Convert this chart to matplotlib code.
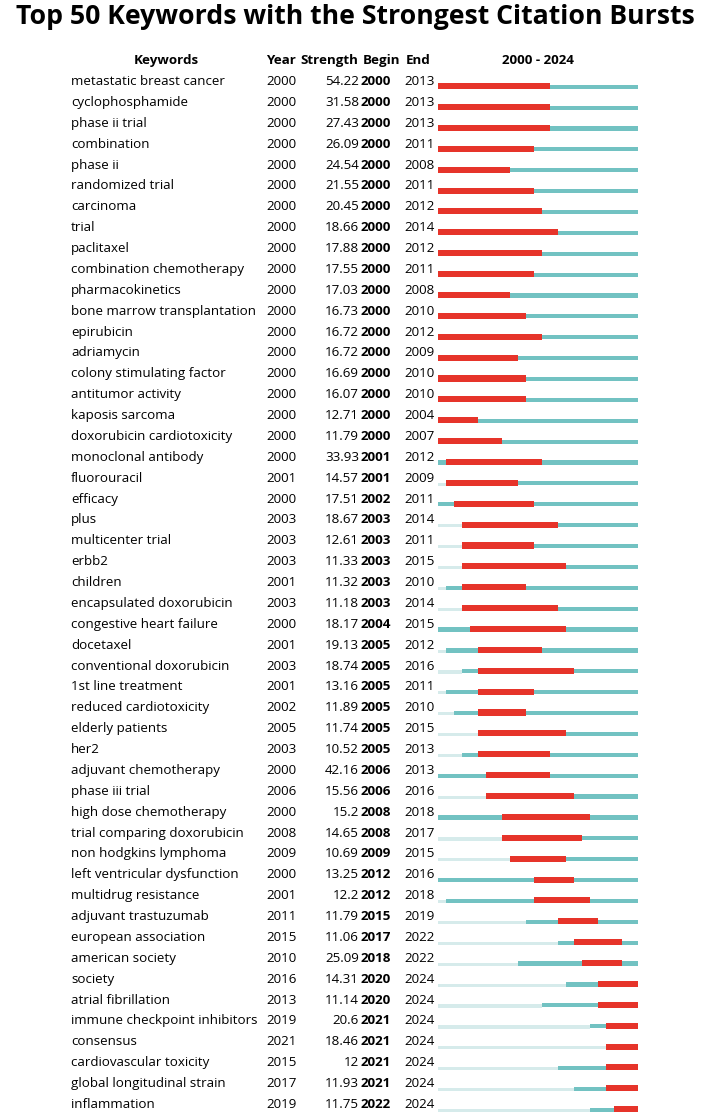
import matplotlib
matplotlib.use("Agg")
import matplotlib.pyplot as plt

plt.rcParams['font.family'] = ['Open Sans', 'DejaVu Sans']

keywords = [
    "metastatic breast cancer", "cyclophosphamide", "phase ii trial", "combination",
    "phase ii", "randomized trial", "carcinoma", "trial", "paclitaxel",
    "combination chemotherapy", "pharmacokinetics", "bone marrow transplantation",
    "epirubicin", "adriamycin", "colony stimulating factor", "antitumor activity",
    "kaposis sarcoma", "doxorubicin cardiotoxicity", "monoclonal antibody", "fluorouracil",
    "efficacy", "plus", "multicenter trial", "erbb2", "children", "encapsulated doxorubicin",
    "congestive heart failure", "docetaxel", "conventional doxorubicin", "1st line treatment",
    "reduced cardiotoxicity", "elderly patients", "her2", "adjuvant chemotherapy",
    "phase iii trial", "high dose chemotherapy", "trial comparing doxorubicin",
    "non hodgkins lymphoma", "left ventricular dysfunction", "multidrug resistance",
    "adjuvant trastuzumab", "european association", "american society", "society",
    "atrial fibrillation", "immune checkpoint inhibitors", "consensus",
    "cardiovascular toxicity", "global longitudinal strain", "inflammation",
]
years = [
    2000, 2000, 2000, 2000, 2000, 2000, 2000, 2000, 2000, 2000,
    2000, 2000, 2000, 2000, 2000, 2000, 2000, 2000, 2000, 2001,
    2000, 2003, 2003, 2003, 2001, 2003, 2000, 2001, 2003, 2001,
    2002, 2005, 2003, 2000, 2006, 2000, 2008, 2009, 2000, 2001,
    2011, 2015, 2010, 2016, 2013, 2019, 2021, 2015, 2017, 2019,
]
strength = [
    "54.22", "31.58", "27.43", "26.09", "24.54", "21.55", "20.45", "18.66", "17.88", "17.55",
    "17.03", "16.73", "16.72", "16.72", "16.69", "16.07", "12.71", "11.79", "33.93", "14.57",
    "17.51", "18.67", "12.61", "11.33", "11.32", "11.18", "18.17", "19.13", "18.74", "13.16",
    "11.89", "11.74", "10.52", "42.16", "15.56", "15.2", "14.65", "10.69", "13.25", "12.2",
    "11.79", "11.06", "25.09", "14.31", "11.14", "20.6", "18.46", "12", "11.93", "11.75",
]
begin = [
    2000, 2000, 2000, 2000, 2000, 2000, 2000, 2000, 2000, 2000,
    2000, 2000, 2000, 2000, 2000, 2000, 2000, 2000, 2001, 2001,
    2002, 2003, 2003, 2003, 2003, 2003, 2004, 2005, 2005, 2005,
    2005, 2005, 2005, 2006, 2006, 2008, 2008, 2009, 2012, 2012,
    2015, 2017, 2018, 2020, 2020, 2021, 2021, 2021, 2021, 2022,
]
end = [
    2013, 2013, 2013, 2011, 2008, 2011, 2012, 2014, 2012, 2011,
    2008, 2010, 2012, 2009, 2010, 2010, 2004, 2007, 2012, 2009,
    2011, 2014, 2011, 2015, 2010, 2014, 2015, 2012, 2016, 2011,
    2010, 2015, 2013, 2013, 2016, 2018, 2017, 2015, 2016, 2018,
    2019, 2022, 2022, 2024, 2024, 2024, 2024, 2024, 2024, 2024,
]
first_year, last_year = 2000, 2024

RED = "#e6342a"
TEAL = "#72c2c2"
LIGHT = "#d6ebeb"

W, H = 708, 1119
fig = plt.figure(figsize=(W / 100, H / 100), dpi=100)

# text layer in pixel coordinates
tab = fig.add_axes([0, 0, 1, 1])
tab.set_xlim(0, W)
tab.set_ylim(H, 0)
tab.axis("off")

y0 = 81.5
pitch = (1104.5 - 81.5) / (len(keywords) - 1)
fs = 9.6

tab.text(355, 17, "Top 50 Keywords with the Strongest Citation Bursts",
         ha="center", va="center", fontsize=19.2, fontweight="bold")

hy = 60.5
tab.text(166, hy, "Keywords", ha="center", va="center", fontsize=fs, fontweight="bold")
tab.text(266, hy, "Year", ha="left", va="center", fontsize=fs, fontweight="bold")
tab.text(300, hy, "Strength", ha="left", va="center", fontsize=fs, fontweight="bold")
tab.text(363, hy, "Begin", ha="left", va="center", fontsize=fs, fontweight="bold")
tab.text(406, hy, "End", ha="left", va="center", fontsize=fs, fontweight="bold")
tab.text(538, hy, f"{first_year} - {last_year}", ha="center", va="center",
         fontsize=fs, fontweight="bold")

for i, kw in enumerate(keywords):
    y = y0 + i * pitch
    tab.text(71, y, kw, ha="left", va="center", fontsize=fs)
    tab.text(266, y, str(years[i]), ha="left", va="center", fontsize=fs)
    tab.text(359, y, strength[i], ha="right", va="center", fontsize=fs)
    tab.text(361, y, str(begin[i]), ha="left", va="center", fontsize=fs, fontweight="bold")
    tab.text(404, y, str(end[i]), ha="left", va="center", fontsize=fs)

# burst timeline axes, years on x, row index on y
x_left, x_right = 438, 638
top_px = y0 - pitch / 2
bot_px = y0 + (len(keywords) - 1) * pitch + pitch / 2
bar_ax = fig.add_axes([x_left / W, 1 - bot_px / H, (x_right - x_left) / W, (bot_px - top_px) / H])
bar_ax.set_xlim(first_year, last_year + 1)
bar_ax.set_ylim(len(keywords) - 0.5, -0.5)
bar_ax.axis("off")

base = 0.37  # bottom line of the bars, in rows below text centre
h_red, h_teal, h_light = 0.29, 0.2, 0.15
for i in range(len(keywords)):
    bar_ax.barh(i + base - h_light / 2 - 0.01, years[i] - first_year, left=first_year,
                height=h_light, color=LIGHT, linewidth=0)
    bar_ax.barh(i + base - h_teal / 2 - 0.02, last_year + 1 - years[i], left=years[i],
                height=h_teal, color=TEAL, linewidth=0)
    bar_ax.barh(i + base - h_red / 2, end[i] + 1 - begin[i], left=begin[i],
                height=h_red, color=RED, linewidth=0)

fig.savefig("out.png", dpi=100)
